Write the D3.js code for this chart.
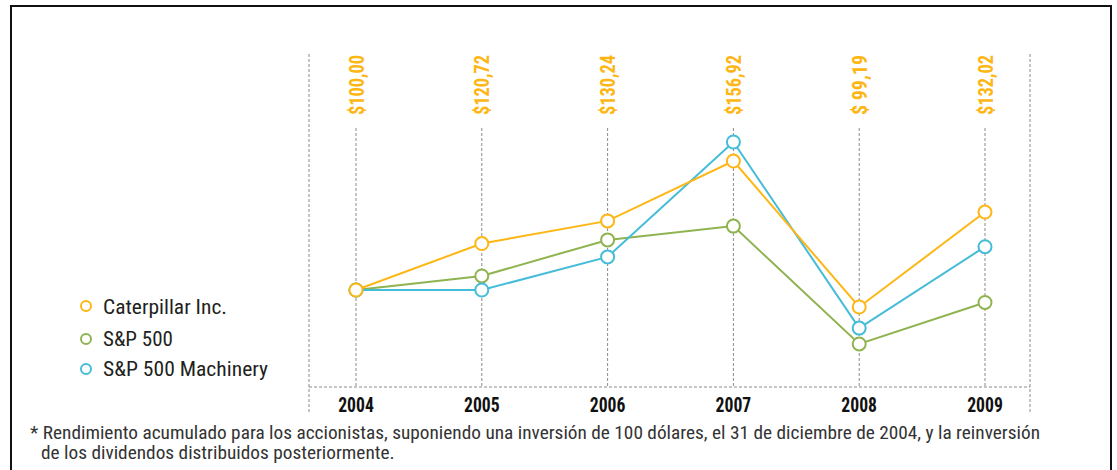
<!DOCTYPE html>
<html>
<head>
<meta charset="utf-8">
<script src="https://cdn.jsdelivr.net/npm/d3@7"></script>
<style>
  body { margin: 0; background: #fff; }
  svg { display: block; }
  .cond { font-family: "Liberation Sans Narrow", "Roboto Condensed", "DejaVu Sans Condensed", "Arial Narrow", Roboto, sans-serif; }
</style>
</head>
<body>
<svg id="chart" width="1117" height="470"></svg>
<script>
// years on the x axis
const years = ["2004", "2005", "2006", "2007", "2008", "2009"];
// value labels printed at the top (Caterpillar)
const valueLabels = ["$100,00", "$120,72", "$130,24", "$156,92", "$ 99,19", "$132,02"];
// values as plotted in the picture
const caterpillar = [100, 120.5, 130.5, 156.9, 92.5, 134.4];
const sp500 = [100, 106.2, 122.1, 128.2, 76.2, 94.5];
const machinery = [100, 100, 114.6, 165.3, 83.2, 119.1];

const seriesNames = ["Caterpillar Inc.", "S&P 500", "S&P 500 Machinery"];
const seriesColors = ["#fdb614", "#8fb350", "#45bcd8"];

const footnote = [
  "* Rendimiento acumulado para los accionistas, suponiendo una inversión de 100 dólares, el 31 de diciembre de 2004, y la reinversión",
  "de los dividendos distribuidos posteriormente."
];

const svg = d3.select("#chart");

// squeeze text horizontally, the original uses a condensed face
function squeeze(sel, k) {
  sel.each(function() {
    const w = this.getComputedTextLength();
    d3.select(this)
      .attr("textLength", w * k)
      .attr("lengthAdjust", "spacingAndGlyphs");
  });
}

// frame
svg.append("rect")
  .attr("x", 11).attr("y", 6)
  .attr("width", 1100).attr("height", 480)
  .attr("fill", "none")
  .attr("stroke", "#111")
  .attr("stroke-width", 2);

const x = d3.scalePoint().domain(years).range([356, 985]);
const y = d3.scaleLinear().domain([100, 156.92]).range([290, 161]);

const dash = "3,2";
const gridCol = "#8a8a8a";

// outer dashed frame of the plot
[309, 1030].forEach(xx => {
  svg.append("line")
    .attr("x1", xx).attr("x2", xx)
    .attr("y1", 54).attr("y2", 412)
    .attr("stroke", gridCol).attr("stroke-width", 1)
    .attr("stroke-dasharray", dash);
});
svg.append("line")
  .attr("x1", 309).attr("x2", 1030)
  .attr("y1", 387).attr("y2", 387)
  .attr("stroke", gridCol).attr("stroke-width", 1)
  .attr("stroke-dasharray", dash);

// column lines
svg.append("g").selectAll("line")
  .data(years)
  .enter().append("line")
  .attr("x1", d => x(d)).attr("x2", d => x(d))
  .attr("y1", 128).attr("y2", 387)
  .attr("stroke", gridCol).attr("stroke-width", 1)
  .attr("stroke-dasharray", dash);

// year labels
svg.append("g").selectAll("text")
  .data(years)
  .enter().append("text")
  .attr("class", "cond")
  .attr("x", d => x(d))
  .attr("y", 412)
  .attr("text-anchor", "middle")
  .attr("font-size", 21)
  .attr("font-weight", "bold")
  .attr("fill", "#111")
  .text(d => d)
  .call(squeeze, 0.84);

// rotated value labels
svg.append("g").selectAll("text")
  .data(valueLabels)
  .enter().append("text")
  .attr("class", "cond")
  .attr("transform", (d, i) => `translate(${x(years[i]) + 7.5},115) rotate(-90)`)
  .attr("font-size", 21)
  .attr("font-weight", "bold")
  .attr("fill", seriesColors[0])
  .text(d => d)
  .attr("textLength", 60)
  .attr("lengthAdjust", "spacingAndGlyphs");

// series lines and points
const allSeries = [caterpillar, sp500, machinery];
const line = d3.line()
  .x((d, i) => x(years[i]))
  .y(d => y(d));

const order = [1, 2, 0];
order.forEach(k => {
  const g = svg.append("g");
  g.append("path")
    .datum(allSeries[k])
    .attr("d", line)
    .attr("fill", "none")
    .attr("stroke", seriesColors[k])
    .attr("stroke-width", 2);
  g.selectAll("circle")
    .data(allSeries[k])
    .enter().append("circle")
    .attr("cx", (d, i) => x(years[i]))
    .attr("cy", d => y(d))
    .attr("r", 6.5)
    .attr("fill", "#fff")
    .attr("stroke", seriesColors[k])
    .attr("stroke-width", 2);
});

// legend
const legend = svg.append("g");
const legY = [306, 339, 369];
const legW = [124, 70, 165];
seriesNames.forEach((name, i) => {
  legend.append("circle")
    .attr("cx", 86).attr("cy", legY[i])
    .attr("r", 5)
    .attr("fill", "#fff")
    .attr("stroke", seriesColors[i])
    .attr("stroke-width", 2);
  legend.append("text")
    .attr("class", "cond")
    .attr("x", 103).attr("y", legY[i] + 7 + (i === 0 ? 1 : 0))
    .attr("font-size", 20)
    .attr("fill", "#231f20")
    .attr("textLength", legW[i])
    .attr("lengthAdjust", "spacingAndGlyphs")
    .text(name);
});

// footnote
const f1 = svg.append("text")
  .attr("class", "cond")
  .attr("x", 30).attr("y", 439)
  .attr("font-size", 17.5)
  .attr("fill", "#333")
  .text(footnote[0]);
const k = 1010 / f1.node().getComputedTextLength();
f1.call(squeeze, k);
svg.append("text")
  .attr("class", "cond")
  .attr("x", 41).attr("y", 459)
  .attr("font-size", 17.5)
  .attr("fill", "#333")
  .text(footnote[1])
  .call(squeeze, k);
</script>
</body>
</html>
